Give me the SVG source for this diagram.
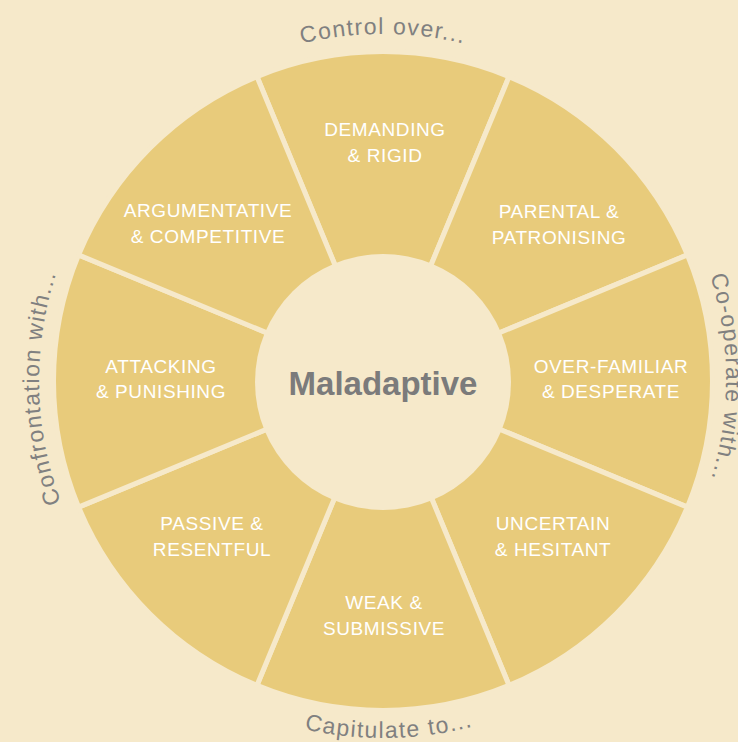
<svg xmlns="http://www.w3.org/2000/svg" width="738" height="742" viewBox="0 0 738 742">
  <style>
    .bg { fill: #f6e9ca; }
    .wedge { fill: #e8cb7b; stroke: #f6e9ca; stroke-width: 5; stroke-linejoin: round; }
    .hub { fill: #f6e9ca; }
    .label { font-family: "Liberation Sans", Arial, sans-serif; font-size: 19px; fill: #ffffff; text-anchor: middle; letter-spacing: 0.6px; }
    .hub-text { font-family: "Liberation Sans", Arial, sans-serif; font-size: 33px; font-weight: bold; fill: #7b7b7b; text-anchor: middle; }
    .rim { font-family: "Liberation Sans", Arial, sans-serif; font-size: 23px; fill: #808080; letter-spacing: 1.4px; }
  </style>
  <defs>
    <!-- baseline arcs for the four rim captions, centred on the wheel hub -->
    <path id="arc-top" d="M 159.95 115.18 A 347 347 0 0 1 606.05 115.18"/>
    <path id="arc-right" d="M 625.54 136.46 A 343 343 0 0 1 625.54 621.54"/>
    <path id="arc-left" d="M 139.76 624.24 A 344 344 0 0 1 139.76 137.76"/>
    <path id="arc-bottom" d="M 153.52 654.48 A 357 357 0 0 0 612.48 654.48"/>
  </defs>

  <rect class="bg" x="0" y="0" width="738" height="742"/>

  <!-- eight sectors of the wheel -->
  <g id="demanding-rigid">
    <path class="wedge" d="M 383 381 L 256.91 76.58 A 329.5 329.5 0 0 1 509.09 76.58 Z"/>
    <text class="label" x="385" y="136">DEMANDING</text>
    <text class="label" x="385" y="162">&amp; RIGID</text>
  </g>
  <g id="parental-patronising">
    <path class="wedge" d="M 383 381 L 509.09 76.58 A 329.5 329.5 0 0 1 687.42 254.91 Z"/>
    <text class="label" x="559" y="218">PARENTAL &amp;</text>
    <text class="label" x="559" y="244">PATRONISING</text>
  </g>
  <g id="over-familiar-desperate">
    <path class="wedge" d="M 383 381 L 687.42 254.91 A 329.5 329.5 0 0 1 687.42 507.09 Z"/>
    <text class="label" x="611" y="373">OVER-FAMILIAR</text>
    <text class="label" x="611" y="398">&amp; DESPERATE</text>
  </g>
  <g id="uncertain-hesitant">
    <path class="wedge" d="M 383 381 L 687.42 507.09 A 329.5 329.5 0 0 1 509.09 685.42 Z"/>
    <text class="label" x="553" y="530">UNCERTAIN</text>
    <text class="label" x="553" y="556">&amp; HESITANT</text>
  </g>
  <g id="weak-submissive">
    <path class="wedge" d="M 383 381 L 509.09 685.42 A 329.5 329.5 0 0 1 256.91 685.42 Z"/>
    <text class="label" x="384" y="609">WEAK &amp;</text>
    <text class="label" x="384" y="635">SUBMISSIVE</text>
  </g>
  <g id="passive-resentful">
    <path class="wedge" d="M 383 381 L 256.91 685.42 A 329.5 329.5 0 0 1 78.58 507.09 Z"/>
    <text class="label" x="212" y="530">PASSIVE &amp;</text>
    <text class="label" x="212" y="556">RESENTFUL</text>
  </g>
  <g id="attacking-punishing">
    <path class="wedge" d="M 383 381 L 78.58 507.09 A 329.5 329.5 0 0 1 78.58 254.91 Z"/>
    <text class="label" x="161" y="373">ATTACKING</text>
    <text class="label" x="161" y="398">&amp; PUNISHING</text>
  </g>
  <g id="argumentative-competitive">
    <path class="wedge" d="M 383 381 L 78.58 254.91 A 329.5 329.5 0 0 1 256.91 76.58 Z"/>
    <text class="label" x="208" y="217">ARGUMENTATIVE</text>
    <text class="label" x="208" y="243">&amp; COMPETITIVE</text>
  </g>

  <!-- hub -->
  <g id="maladaptive">
    <circle class="hub" cx="383" cy="382" r="128"/>
    <text class="hub-text" x="383" y="395">Maladaptive</text>
  </g>

  <!-- rim captions -->
  <g id="rim-captions">
    <text class="rim" text-anchor="middle"><textPath href="#arc-top" startOffset="50%">Control over...</textPath></text>
    <text class="rim" text-anchor="middle"><textPath href="#arc-right" startOffset="49.7%">Co-operate with...</textPath></text>
    <text class="rim" text-anchor="middle"><textPath href="#arc-left" startOffset="48.7%">Confrontation with...</textPath></text>
    <text class="rim" text-anchor="middle"><textPath href="#arc-bottom" startOffset="51.2%">Capitulate to...</textPath></text>
  </g>
</svg>
